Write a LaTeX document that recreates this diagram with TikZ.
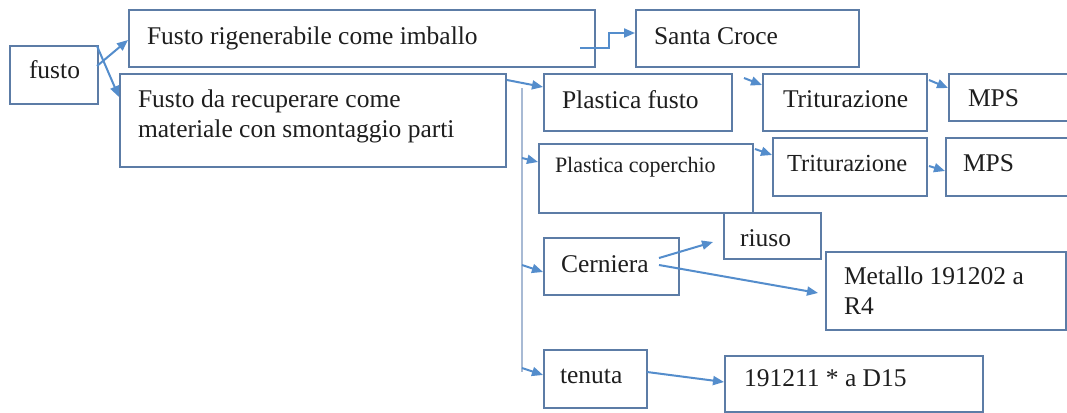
\documentclass[tikz,border=0pt]{standalone}
\usepackage{fontspec}
\setmainfont{Liberation Serif}
\usetikzlibrary{arrows.meta,calc}
\definecolor{boxc}{RGB}{92,124,166}
\definecolor{arrc}{RGB}{84,141,204}
\definecolor{vlc}{RGB}{168,186,212}
\definecolor{txtc}{RGB}{30,30,30}
\newcommand\bxt[5]{\parbox[b][#2pt][t]{#1pt}{\raggedright\hspace*{#4pt}\rule{0pt}{#3pt}#5}}
\begin{document}
\begin{tikzpicture}[x=1pt,y=-1pt,
  box/.style={draw=boxc,fill=white,line width=2pt,anchor=north west,inner sep=0pt,
    font=\fontsize{25.5}{30}\selectfont,text=txtc},
  arr/.style={draw=arrc,line width=2pt,-{Triangle[length=11pt,width=9pt]}},
  vl/.style={draw=vlc,line width=2pt}]
\useasboundingbox (0,0) rectangle (1067,412);
\fill[white] (0,0) rectangle (1067,412);
% boxes
\node[box] (fusto) at (9,45) {\bxt{88}{58}{32}{19}{fusto}};
\node[box] (rig) at (128,9) {\bxt{466}{57}{34}{18}{Fusto rigenerabile come imballo}};
\node[box] (rec) at (119,73) {\bxt{386}{93}{33}{18}{Fusto da recuperare come\\\hspace*{18pt}materiale con smontaggio parti}};
\node[box] (santa) at (635,9) {\bxt{223}{57}{34}{18}{Santa Croce}};
\node[box] (pf) at (543,73) {\bxt{188}{57}{34}{18}{Plastica fusto}};
\node[box] (t1) at (762,73) {\bxt{164}{57}{33}{20}{Triturazione}};
\node[box] (mps1) at (948,73) {\bxt{140}{47}{32}{19}{MPS}};
\node[box] (pc) at (538,143) {\bxt{214}{69}{28}{16}{{\fontsize{22}{26}\selectfont Plastica coperchio}}};
\node[box] (t2) at (772,137) {\bxt{154}{58}{33}{14}{{\fontsize{24.5}{29}\selectfont Triturazione}}};
\node[box] (mps2) at (945,137) {\bxt{140}{58}{33}{17}{MPS}};
\node[box] (riuso) at (723,212) {\bxt{97}{46}{33}{16}{riuso}};
\node[box] (cern) at (543,237) {\bxt{135}{57}{34}{17}{Cerniera}};
\node[box] (met) at (825,251) {\bxt{240}{78}{32}{18}{Metallo 191202 a\\\hspace*{18pt}R4}};
\node[box] (ten) at (543,349) {\bxt{103}{58}{33}{16}{tenuta}};
\node[box] (d15) at (724,355) {\bxt{258}{56}{30}{19}{191211 * a D15}};
% connectors
\draw[arr] ($(fusto.north east)+(-2,21)$) -- ($(rig.north west)+(0,31)$);
\draw[arr] ($(fusto.north east)+(-2,1)$) -- ($(rec.north west)+(0,24)$);
\draw[arr] ($(rig.south east)+(-16,-20)$) -- ++(29,0) |- ($(santa.north west)+(0,24)$);
\draw[arr] ($(rec.north east)+(0,7)$) -- ($(pf.north west)+(0,14)$);
\coordinate (vtop) at (522,88);
\coordinate (vbot) at (522,372);
\coordinate (b1) at (522,158);
\coordinate (b2) at (522,265);
\coordinate (b3) at (522,368);
\draw[vl] (vtop) -- (vbot);
\draw[arr] (b1) -- ($(pc.north west)+(0,19)$);
\draw[arr] (b2) -- ($(cern.north west)+(0,35)$);
\draw[arr] (b3) -- ($(ten.north west)+(0,26)$);
\draw[arr] ($(pf.north east)+(11,5)$) -- ($(t1.north west)+(0,12)$);
\draw[arr] ($(t1.north east)+(1,7)$) -- ($(mps1.north west)+(0,15)$);
\draw[arr] ($(pc.north east)+(1,6)$) -- ($(t2.north west)+(0,18)$);
\draw[arr] ($(t2.north east)+(1,29)$) -- ($(mps2.north west)+(0,34)$);
\draw[arr] ($(cern.north east)+(-21,21)$) -- ($(riuso.north west)+(-10,30)$);
\draw[arr] ($(cern.north east)+(-21,28)$) -- ($(met.north west)+(-7,42)$);
\draw[arr] ($(ten.north east)+(-1,23)$) -- ($(d15.north west)+(0,27)$);
\end{tikzpicture}
\end{document}
